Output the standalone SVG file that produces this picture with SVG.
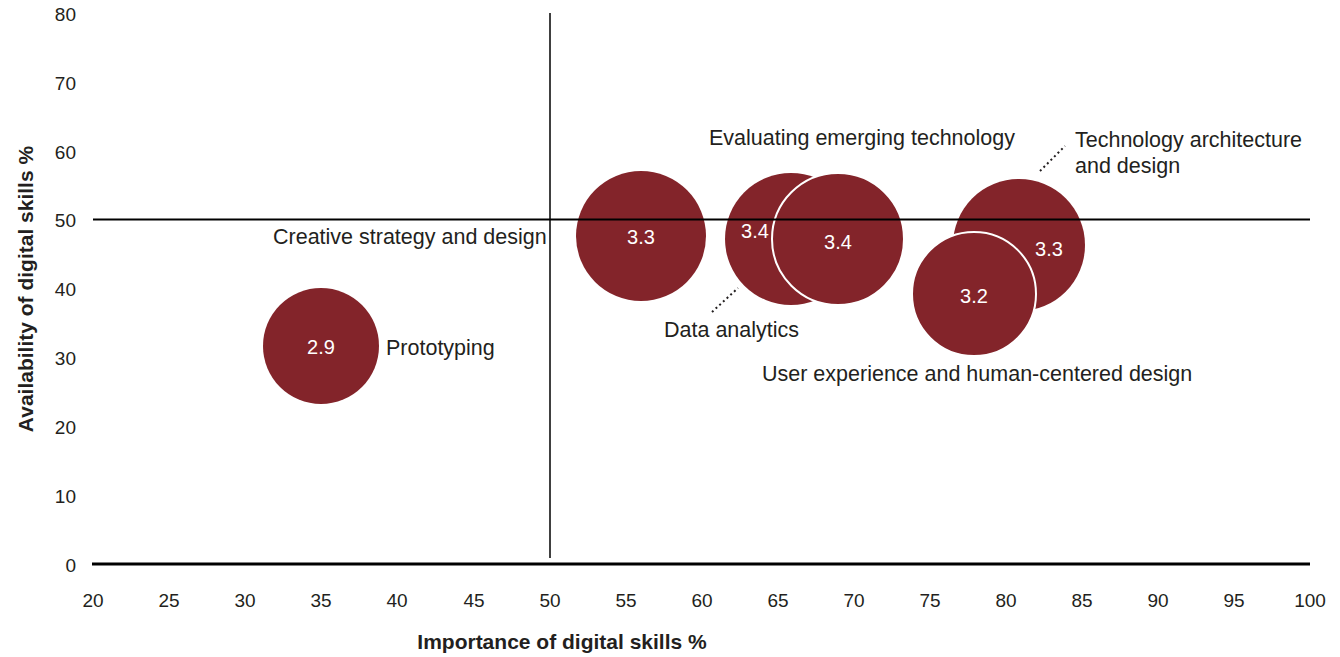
<svg xmlns="http://www.w3.org/2000/svg" width="1340" height="657" viewBox="0 0 1340 657">
<style>
text{font-family:"Liberation Sans",Arial,sans-serif;fill:#231f20}
.tick{font-size:19px}
.ty{text-anchor:end}
.tx{text-anchor:middle}
.lbl{font-size:21.5px}
.ax{font-size:21px;font-weight:bold;text-anchor:middle}
.bub{fill:#83242a}
.bubw{fill:#83242a;stroke:#fff;stroke-width:2}
.val{font-size:20px;fill:#fff;text-anchor:middle}
.lead{stroke:#231f20;stroke-width:2;stroke-dasharray:2 3;fill:none}
</style>
<rect width="1340" height="657" fill="#fff"/>
<g id="y-ticks">
<text class="tick ty" x="76" y="21">80</text>
<text class="tick ty" x="76" y="90">70</text>
<text class="tick ty" x="76" y="159">60</text>
<text class="tick ty" x="76" y="227">50</text>
<text class="tick ty" x="76" y="296">40</text>
<text class="tick ty" x="76" y="365">30</text>
<text class="tick ty" x="76" y="434">20</text>
<text class="tick ty" x="76" y="503">10</text>
<text class="tick ty" x="76" y="572">0</text>
</g>
<g id="x-ticks">
<text class="tick tx" x="93" y="607">20</text>
<text class="tick tx" x="169" y="607">25</text>
<text class="tick tx" x="245" y="607">30</text>
<text class="tick tx" x="321" y="607">35</text>
<text class="tick tx" x="397" y="607">40</text>
<text class="tick tx" x="474" y="607">45</text>
<text class="tick tx" x="550" y="607">50</text>
<text class="tick tx" x="626" y="607">55</text>
<text class="tick tx" x="702" y="607">60</text>
<text class="tick tx" x="778" y="607">65</text>
<text class="tick tx" x="854" y="607">70</text>
<text class="tick tx" x="930" y="607">75</text>
<text class="tick tx" x="1006" y="607">80</text>
<text class="tick tx" x="1082" y="607">85</text>
<text class="tick tx" x="1158" y="607">90</text>
<text class="tick tx" x="1234" y="607">95</text>
<text class="tick tx" x="1310" y="607">100</text>
</g>
<g id="axis-titles">
<text class="ax" x="562" y="649">Importance of digital skills %</text>
<text class="ax" transform="translate(33,289) rotate(-90)">Availability of digital skills %</text>
</g>
<g id="node-prototyping">
<circle class="bub" cx="321" cy="346" r="58"/>
<text class="val" x="321" y="354">2.9</text>
<text class="lbl" x="386" y="355">Prototyping</text>
</g>
<g id="node-creative">
<circle class="bub" cx="641" cy="236" r="65"/>
<text class="val" x="641" y="244">3.3</text>
<text class="lbl" x="273" y="244">Creative strategy and design</text>
</g>
<g id="node-data">
<circle class="bub" cx="791" cy="239" r="66"/>
<text class="val" x="755" y="238">3.4</text>
<text class="lbl" x="664" y="337">Data analytics</text>
</g>
<g id="node-evaluating">
<circle class="bubw" cx="838" cy="239" r="66"/>
<text class="val" x="838" y="249">3.4</text>
<text class="lbl" x="709" y="145">Evaluating emerging technology</text>
</g>
<g id="node-techarch">
<circle class="bub" cx="1019" cy="245" r="66"/>
<text class="val" x="1049" y="256">3.3</text>
<text class="lbl" x="1075" y="147">Technology architecture</text>
<text class="lbl" x="1075" y="173">and design</text>
</g>
<g id="node-ux">
<circle class="bubw" cx="974" cy="294" r="62"/>
<text class="val" x="974" y="303">3.2</text>
<text class="lbl" x="762" y="381">User experience and human-centered design</text>
</g>
<g id="connectors">
<line x1="93" y1="219.5" x2="1310" y2="219.5" stroke="#000" stroke-width="2"/>
<line x1="550" y1="13" x2="550" y2="558" stroke="#000" stroke-width="1.5"/>
<line x1="92" y1="564" x2="1310" y2="564" stroke="#000" stroke-width="3"/>
<line class="lead" x1="712" y1="312" x2="738" y2="288"/>
<line class="lead" x1="1040" y1="171" x2="1065" y2="146"/>
</g>
</svg>
